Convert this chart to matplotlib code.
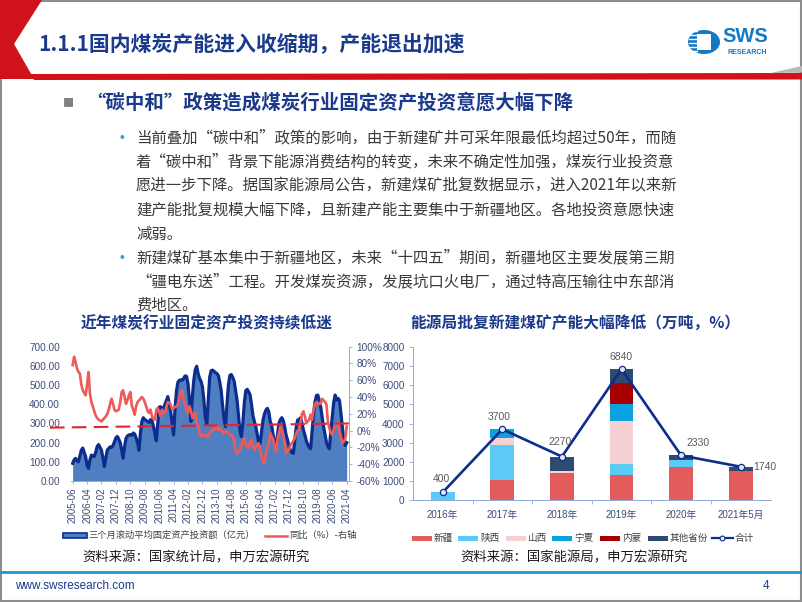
import numpy as np
import matplotlib
matplotlib.use('Agg')
import matplotlib.pyplot as plt
from matplotlib.patches import Polygon, Rectangle, Circle
from matplotlib.lines import Line2D

plt.rcParams['font.family'] = ['Liberation Sans', 'Noto Sans CJK SC', 'DejaVu Sans']
CJK = ['Noto Sans CJK SC', 'DejaVu Sans']

# ---------------- data ----------------
# left chart: monthly, 2005-06 .. 2021-04
month_ticks = ['2005-06', '2006-04', '2007-02', '2007-12', '2008-10', '2009-08', '2010-06',
               '2011-04', '2012-02', '2012-12', '2013-10', '2014-08', '2015-06', '2016-04',
               '2017-02', '2017-12', '2018-10', '2019-08', '2020-06', '2021-04']
invest_3m = [92, 110, 118, 105, 100, 130, 160, 172, 150, 127,
             80, 66, 110, 135, 130, 128, 150, 180, 190, 175,
             160, 120, 75, 120, 160, 170, 178, 175, 185, 205,
             225, 232, 218, 200, 160, 118, 180, 222, 235, 240,
             242, 238, 250, 245, 225, 200, 160, 250, 310, 330,
             320, 315, 310, 305, 320, 315, 285, 250, 210, 300,
             385, 387, 375, 378, 400, 420, 440, 400, 360, 300,
             240, 380, 470, 515, 525, 527, 525, 535, 548, 545,
             505, 420, 310, 440, 525, 580, 598, 560, 535, 520,
             490, 420, 330, 295, 420, 540, 575, 578, 572, 565,
             560, 550, 515, 470, 390, 320, 283, 400, 500, 550,
             555, 540, 520, 470, 420, 340, 260, 231, 300, 405,
             470, 478, 465, 450, 400, 340, 310, 283, 240, 200,
             196, 260, 318, 350, 370, 379, 360, 310, 290, 240,
             200, 179, 240, 300, 320, 330, 315, 283, 240, 214,
             180, 160, 148, 144, 210, 280, 318, 320, 330, 300,
             266, 240, 210, 190, 175, 168, 260, 350, 410, 445,
             448, 420, 386, 330, 283, 240, 200, 180, 168, 260,
             335, 410, 448, 422, 431, 420, 353, 280, 214, 185,
             200]
yoy_pct = [78, 88, 82, 74, 70, 68, 55, 48, 45, 42,
           55, 70, 44, 34, 29, 23, 18, 15, 13, 12,
           11, 13, 15, 17, 20, 25, 32, 38, 32, 25,
           23, 24, 25, 34, 46, 48, 40, 32, 36, 42,
           46, 30, 25, 19, 29, 34, 36, 38, 40, 38,
           34, 29, 23, 21, 25, 17, 14, 13, 25, 27,
           22, 17, 25, 21, 21, 29, 34, 33, 31, 25,
           27, 28, 29, 32, 40, 46, 48, 36, 30, 25,
           21, 29, 24, 15, 20, 21, 9, 5, -2, -7,
           -5, -6, -7, -5, -7, -3, -1, 1, 1, 3,
           7, 1, 3, 0, -1, -3, -1, -1, -3, -5,
           -5, -7, -13, -25, -27, -25, -23, -17, -12, -9,
           -17, -19, -21, -13, -11, -19, -23, -19, -17, -15,
           -25, -30, -37, -39, -27, -20, -15, -3, -7, -10,
           -19, -25, -10, -3, 5, 1, -5, -15, -27, -25,
           -23, -17, -15, -12, -9, -3, 0, 1, 10, 20,
           23, 17, 9, 11, 13, 19, 13, 25, 31, 34,
           31, 33, 32, 38, 36, 34, 31, 10, 3, -3,
           -5, 1, 5, 7, 9, -2, -7, -15, -13, -10,
           5]
trend_x = [-15.7, 193.7]
trend_y = [278, 300]

# right chart
years = ['2016年', '2017年', '2018年', '2019年', '2020年', '2021年5月']
xinjiang = [0, 1020, 1400, 1300, 1750, 1540]
shaanxi = [400, 1860, 0, 600, 340, 0]
shanxi = [0, 380, 100, 2240, 0, 0]
ningxia = [0, 440, 0, 870, 0, 0]
neimeng = [0, 0, 0, 1120, 0, 0]
others = [0, 0, 770, 710, 240, 200]
total = [400, 3700, 2270, 6840, 2330, 1740]

# ---------------- figure ----------------
W, H = 802, 602
fig = plt.figure(figsize=(W / 100, H / 100), dpi=100)
fig.patch.set_facecolor('white')


def fx(x):
    return x / W


def fy(y):
    return 1 - y / H


def poly(pts, **kw):
    p = Polygon([(fx(a), fy(b)) for a, b in pts], closed=True, transform=fig.transFigure, **kw)
    fig.add_artist(p)


# slide frame
fig.add_artist(Rectangle((0.001, 0.001), 0.998, 0.998, transform=fig.transFigure,
                         fill=False, edgecolor='#8c8c8c', lw=1.5))
# header shapes
RED = '#D0121B'
poly([(0, 0), (42, 0), (14, 44), (34, 79), (0, 79)], facecolor=RED, edgecolor='none')
poly([(30, 74), (790, 73), (802, 72.5), (802, 79.5), (34, 80)], facecolor=RED, edgecolor='none')
poly([(770, 73.2), (802, 66), (802, 72.5)], facecolor='#b8b8b8', edgecolor='none')

fig.text(fx(38), fy(44), '1.1.1国内煤炭产能进入收缩期，产能退出加速', fontsize=15, color='#1B3A8C',
         fontweight='bold', va='center', ha='left', family=CJK)

# SWS logo
fig.add_artist(Circle((fx(704), fy(42)), 16 / W, transform=fig.transFigure,
                      facecolor='#1479C4', edgecolor='none'))
fig.add_artist(Rectangle((fx(697), fy(50)), 14 / W, 16 / H, transform=fig.transFigure,
                         facecolor='white', edgecolor='none'))
for yy in [31, 35, 39, 43, 47, 51]:
    fig.add_artist(Line2D([fx(689), fx(697)], [fy(yy), fy(yy)], transform=fig.transFigure,
                          color='white', lw=1.0))
fig.text(fx(722), fy(37), 'SWS', fontsize=14.5, fontweight='bold', color='#1479C4',
         va='center', ha='left', family=['Liberation Sans'])
fig.text(fx(727), fy(53), 'RESEARCH', fontsize=5, fontweight='bold', color='#1479C4',
         va='center', ha='left', family=['Liberation Sans'])

# heading
fig.text(fx(63), fy(103), '■', fontsize=8, color='#808080', va='center', ha='left', family=CJK)
fig.text(fx(86), fy(103), '“碳中和”政策造成煤炭行业固定资产投资意愿大幅下降', fontsize=14,
         color='#1B3A8C', fontweight='bold', va='center', ha='left', family=CJK)

body1 = ['当前叠加“碳中和”政策的影响，由于新建矿井可采年限最低均超过50年，而随',
         '着“碳中和”背景下能源消费结构的转变，未来不确定性加强，煤炭行业投资意',
         '愿进一步下降。据国家能源局公告，新建煤矿批复数据显示，进入2021年以来新',
         '建产能批复规模大幅下降，且新建产能主要集中于新疆地区。各地投资意愿快速',
         '减弱。']
body2 = ['新建煤矿基本集中于新疆地区，未来“十四五”期间，新疆地区主要发展第三期',
         '“疆电东送”工程。开发煤炭资源，发展坑口火电厂，通过特高压输往中东部消',
         '费地区。']
for i, line in enumerate(body1):
    fig.text(fx(136), fy(138 + 24 * i), line, fontsize=11.1, color='#3a3a3a',
             va='center', ha='left', family=CJK)
for i, line in enumerate(body2):
    fig.text(fx(136), fy(258 + 23.5 * i), line, fontsize=11.1, color='#3a3a3a',
             va='center', ha='left', family=CJK)
for yb in [138, 258]:
    fig.text(fx(120), fy(yb), '•', fontsize=10, color='#2AA3DC', va='center', ha='left')

# chart titles
fig.text(fx(207), fy(323), '近年煤炭行业固定资产投资持续低迷', fontsize=11.3, fontweight='bold',
         color='#1B3A8C', va='center', ha='center', family=CJK)
fig.text(fx(575), fy(323), '能源局批复新建煤矿产能大幅降低（万吨，%）', fontsize=11.3, fontweight='bold',
         color='#1B3A8C', va='center', ha='center', family=CJK)

TICKC = '#3E4C78'
SPINEC = '#8EAADB'

# ---------------- left chart ----------------
axL = fig.add_axes([fx(71.2), fy(481), (349 - 71.2) / W, (481 - 346.7) / H])
xm = np.arange(len(invest_3m))
axL.fill_between(xm, invest_3m, 0, color='#4F7FC0', lw=0, zorder=1)
axL.plot(xm, invest_3m, color='#0C2D8E', lw=2.3, zorder=2, solid_joinstyle='round')
axL.set_xlim(-1, 191.6)
axL.set_ylim(0, 700)
axL.set_yticks(np.arange(0, 701, 100))
axL.set_yticklabels(['%.2f' % v for v in np.arange(0, 701, 100)])
axL.set_xticks(np.arange(0, len(month_ticks) * 10, 10))
axL.set_xticklabels(month_ticks, rotation=90)
axL.tick_params(axis='y', length=0, pad=8, labelsize=7.2, labelcolor=TICKC)
axL.tick_params(axis='x', length=2, width=0.6, color=SPINEC, pad=2.5, labelsize=7.0, labelcolor=TICKC)
for s in ['top', 'left', 'right']:
    axL.spines[s].set_visible(False)
axL.spines['bottom'].set_color(SPINEC)
axL.spines['bottom'].set_linewidth(0.7)
axL.patch.set_alpha(0)

axR = axL.twinx()
axR.plot(xm, yoy_pct, color='#EE5A5A', lw=1.9, zorder=3)
axR.set_ylim(-60, 100)
axR.set_yticks(np.arange(-60, 101, 20))
axR.set_yticklabels(['%d%%' % v for v in np.arange(-60, 101, 20)])
axR.tick_params(axis='y', length=2.5, width=0.6, color=SPINEC, pad=3, labelsize=7.2, labelcolor=TICKC)
for s in ['top', 'left', 'bottom']:
    axR.spines[s].set_visible(False)
axR.spines['right'].set_color(SPINEC)
axR.spines['right'].set_linewidth(0.7)
# dashed trend line drawn on top of both series
trend_line = Line2D(trend_x, trend_y, color='#E3262B', lw=1.5, ls=(0, (7, 3.5)),
                    transform=axL.transData, clip_on=False, zorder=10)
axR.add_artist(trend_line)

# left legend
fig.add_artist(Rectangle((fx(63), fy(537.5)), 24 / W, 5 / H, transform=fig.transFigure,
                         facecolor='#4F7FC0', edgecolor='#0C2D8E', lw=1.2))
fig.text(fx(88), fy(535.5), '三个月滚动平均固定资产投资额（亿元）', fontsize=6.7, color='#404040',
         va='center', ha='left', family=CJK)
fig.add_artist(Line2D([fx(265), fx(287)], [fy(535.5), fy(535.5)], transform=fig.transFigure,
                      color='#EE5A5A', lw=1.8))
fig.text(fx(289), fy(535.5), '同比（%）-右轴', fontsize=6.7, color='#404040',
         va='center', ha='left', family=CJK)
fig.text(fx(82), fy(557), '资料来源：国家统计局，申万宏源研究', fontsize=9.6, color='#1a1a1a',
         va='center', ha='left', family=CJK)

# ---------------- right chart ----------------
axB = fig.add_axes([fx(412.9), fy(500), (770.5 - 412.9) / W, (500 - 347) / H])
xs = np.arange(len(years))
series = [('新疆', xinjiang, '#E35B5B'), ('陕西', shaanxi, '#5BCBF5'), ('山西', shanxi, '#F7D0D4'),
          ('宁夏', ningxia, '#0AA3E0'), ('内蒙', neimeng, '#A80000'), ('其他省份', others, '#2E4A70')]
bottom = np.zeros(len(years))
for name, vals, col in series:
    axB.bar(xs, vals, 0.4, bottom=bottom, color=col, edgecolor='none', zorder=2)
    bottom += np.array(vals)
axB.plot(xs, total, color='#0B2F8A', lw=1.9, marker='o', ms=4.5, mfc='#DCE8F6', mec='#0B2F8A',
         mew=0.9, zorder=4)
offsets = [(-1, 6), (-2, 5), (-1, 7), (-0.5, 5), (4, 5), (9, 0)]
for i, (t, off) in enumerate(zip(total, offsets)):
    ha = 'left' if i >= 4 else 'center'
    axB.annotate(str(t), (xs[i], t), xytext=off, textcoords='offset points', ha=ha,
                 va='bottom' if i < 5 else 'center', fontsize=7.5, color='#595959', zorder=6,
                 family=['Liberation Sans'])
axB.set_xlim(-0.5, len(years) - 0.5)
axB.set_ylim(0, 8000)
axB.set_yticks(np.arange(0, 8001, 1000))
axB.set_xticks(xs)
axB.set_xticklabels(years)
axB.set_xticks(np.arange(0.5, len(years) - 0.5, 1), minor=True)
axB.tick_params(axis='x', which='major', length=0, pad=7, labelsize=7.0, labelcolor=TICKC)
axB.tick_params(axis='x', which='minor', length=3, width=0.6, color=SPINEC)
axB.tick_params(axis='y', length=3, width=0.6, color=SPINEC, pad=3, labelsize=7.2, labelcolor=TICKC)
for s in ['top', 'right']:
    axB.spines[s].set_visible(False)
for s in ['left', 'bottom']:
    axB.spines[s].set_color(SPINEC)
    axB.spines[s].set_linewidth(0.7)
axB.patch.set_alpha(0)

# right legend
leg_items = [(411.7, 433.5, '新疆', '#E35B5B'), (458, 480, '陕西', '#5BCBF5'),
             (506, 528, '山西', '#F7D0D4'), (551.7, 574, '宁夏', '#0AA3E0'),
             (600, 622, '内蒙', '#A80000'), (648, 670, '其他省份', '#2E4A70')]
for x0, xt, lab, col in leg_items:
    fig.add_artist(Rectangle((fx(x0), fy(540.5)), 20 / W, 5 / H, transform=fig.transFigure,
                             facecolor=col, edgecolor='none'))
    fig.text(fx(xt), fy(538.3), lab, fontsize=6.9, color='#404040', va='center', ha='left', family=CJK)
fig.add_artist(Line2D([fx(711.7), fx(733)], [fy(538.3), fy(538.3)], transform=fig.transFigure,
                      color='#0B2F8A', lw=1.6))
fig.add_artist(Line2D([fx(722.3)], [fy(538.3)], transform=fig.transFigure, color='#0B2F8A',
                      marker='o', ms=3.5, mfc='#DCE8F6', mec='#0B2F8A', mew=0.8, lw=0))
fig.text(fx(735), fy(538.3), '合计', fontsize=6.9, color='#404040', va='center', ha='left', family=CJK)
fig.text(fx(460), fy(557), '资料来源：国家能源局，申万宏源研究', fontsize=9.6, color='#1a1a1a',
         va='center', ha='left', family=CJK)

# footer
fig.add_artist(Line2D([0, 1], [fy(572), fy(572)], transform=fig.transFigure, color='#1E96D2', lw=2))
fig.text(fx(15), fy(586), 'www.swsresearch.com', fontsize=8.5, color='#1B3A8C', va='center', ha='left',
         family=['Liberation Sans'])
fig.text(fx(766), fy(586), '4', fontsize=8.5, color='#1B3A8C', va='center', ha='center',
         family=['Liberation Sans'])

fig.savefig('out.png', dpi=100, facecolor='white')
